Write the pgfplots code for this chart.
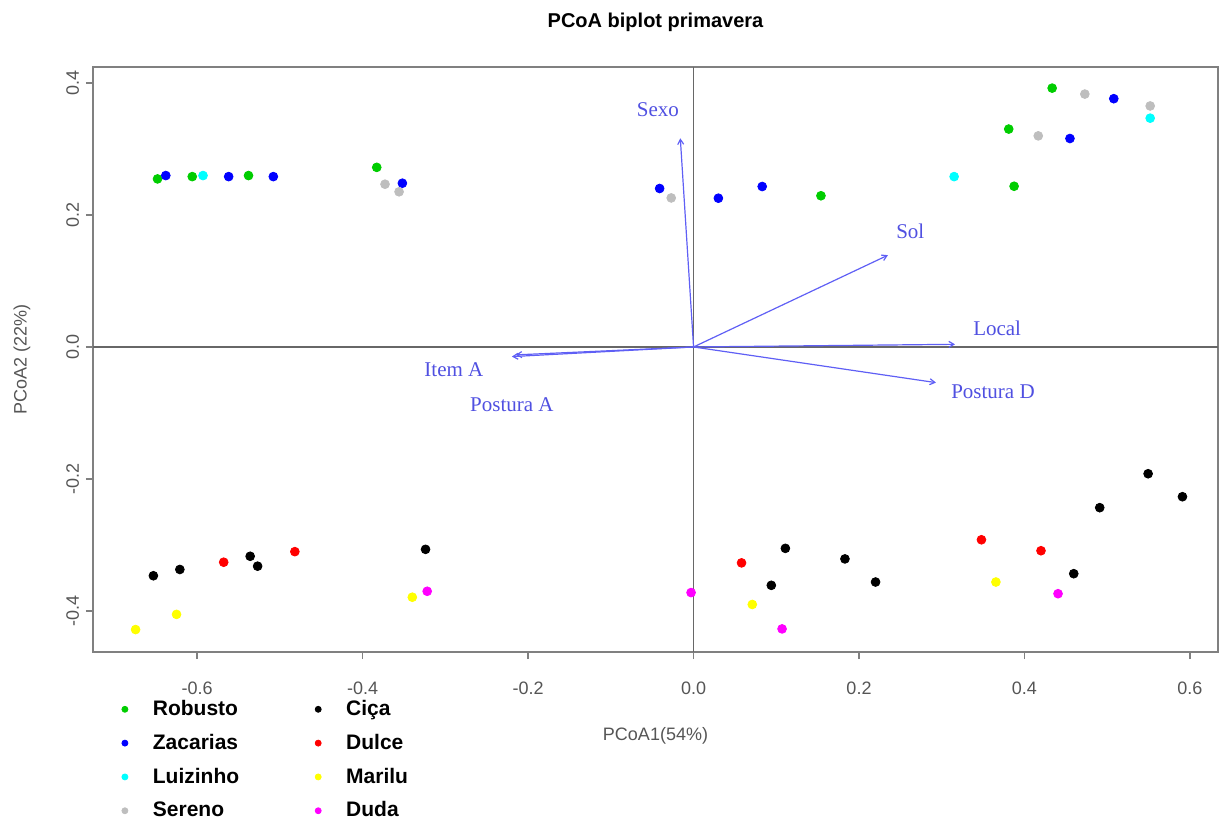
\documentclass[border=0pt]{standalone}
\usepackage{fontspec}
\setmainfont{Liberation Sans}
\newfontfamily\serifa{Liberation Serif}
\usepackage{pgfplots}
\pgfplotsset{compat=1.18}
\usetikzlibrary{arrows.meta}

\definecolor{rgreen}{RGB}{0,205,0}
\definecolor{rgray}{RGB}{190,190,190}
\definecolor{rcyan}{RGB}{0,255,255}
\definecolor{rmagenta}{RGB}{255,0,255}
\definecolor{ryellow}{RGB}{255,255,0}
\definecolor{rblue}{RGB}{0,0,255}
\definecolor{rred}{RGB}{255,0,0}
\definecolor{framegray}{RGB}{128,128,128}
\definecolor{ticktext}{RGB}{85,85,85}
\definecolor{arrowblue}{RGB}{95,95,245}
\definecolor{labelblue}{RGB}{80,80,225}

\begin{document}
\begin{tikzpicture}
\begin{axis}[
    scale only axis,
    width=562.5pt, height=292.5pt,
    xmin=-0.726, xmax=0.634,
    ymin=-0.462, ymax=0.424,
    axis line style={framegray, line width=0.8pt},
    tick style={framegray, line width=0.8pt},
    tick align=outside,
    major tick length=3.5pt,
    xtick pos=bottom, ytick pos=left,
    xtick={-0.6,-0.4,-0.2,0,0.2,0.4,0.6},
    xticklabels={-0.6,-0.4,-0.2,0.0,0.2,0.4,0.6},
    ytick={-0.4,-0.2,0,0.2,0.4},
    yticklabels={-0.4,-0.2,0.0,0.2,0.4},
    ticklabel style={font=\fontsize{9}{10}\selectfont, text=ticktext},
    xticklabel style={yshift=-8pt},
    yticklabel style={rotate=90, anchor=south},
    xlabel={PCoA1(54\%)},
    ylabel={PCoA2 (22\%)},
    label style={font=\fontsize{9}{10}\selectfont, text=ticktext},
    xlabel style={yshift=-9.5pt},
    ylabel shift=11pt,
    title={PCoA biplot primavera},
    title style={font=\fontsize{10}{12}\selectfont\bfseries, yshift=8pt},
    mark size=2.2pt,
    clip=false,
    legend columns=2,
    legend cell align=left,
    legend style={at={(0.020,-0.068)}, anchor=north west, draw=none, fill=none,
        font=\fontsize{10.5}{12}\selectfont\bfseries,
        /tikz/every odd column/.append style={column sep=10.5pt},
        /tikz/every even column/.append style={column sep=36pt},
        row sep=3.8pt},
]
% axes through origin
\addplot[framegray!80!black, line width=0.8pt, forget plot] coordinates {(-0.726,0) (0.634,0)};
\addplot[framegray!80!black, line width=0.8pt, forget plot] coordinates {(0,-0.462) (0,0.424)};

% Robusto
\addplot[only marks, mark=*, color=rgreen, forget plot] coordinates {
    (-0.648,0.2545) (-0.606,0.258) (-0.538,0.2596) (-0.383,0.272)
    (0.154,0.229) (0.4335,0.392) (0.381,0.330) (0.3875,0.2434)
};
% Zacarias
\addplot[only marks, mark=*, color=rblue, forget plot] coordinates {
    (-0.638,0.2596) (-0.562,0.258) (-0.508,0.258) (-0.352,0.248)
    (-0.041,0.240) (0.030,0.2253) (0.083,0.243) (0.508,0.376) (0.455,0.3157)
};
% Luizinho
\addplot[only marks, mark=*, color=rcyan, forget plot] coordinates {
    (-0.593,0.2596) (0.315,0.258) (0.552,0.3465)
};
% Sereno
\addplot[only marks, mark=*, color=rgray, forget plot] coordinates {
    (-0.373,0.2465) (-0.356,0.235) (-0.027,0.2257) (0.473,0.383)
    (0.552,0.365) (0.4167,0.3197)
};
% Cica
\addplot[only marks, mark=*, color=black, forget plot] coordinates {
    (-0.653,-0.3465) (-0.621,-0.337) (-0.536,-0.317) (-0.527,-0.332)
    (-0.324,-0.3065) (0.111,-0.305) (0.094,-0.361) (0.183,-0.321)
    (0.220,-0.356) (0.4596,-0.3434) (0.491,-0.2434) (0.5495,-0.192) (0.591,-0.2268)
};
% Dulce
\addplot[only marks, mark=*, color=rred, forget plot] coordinates {
    (-0.568,-0.326) (-0.482,-0.310) (0.058,-0.327) (0.348,-0.292) (0.420,-0.3086)
};
% Marilu
\addplot[only marks, mark=*, color=ryellow, forget plot] coordinates {
    (-0.6745,-0.428) (-0.625,-0.405) (-0.340,-0.379) (0.071,-0.390) (0.3655,-0.356)
};
% Duda
\addplot[only marks, mark=*, color=rmagenta, forget plot] coordinates {
    (-0.322,-0.370) (-0.003,-0.372) (0.107,-0.427) (0.4406,-0.3737)
};

% biplot arrows
\pgfplotsset{biarrow/.style={arrowblue, line width=0.6pt, -{Straight Barb[length=2.5pt,width=3pt]}, forget plot}}
\addplot[biarrow] coordinates {(0,0) (-0.016,0.316)};
\addplot[biarrow] coordinates {(0,0) (0.235,0.139)};
\addplot[biarrow] coordinates {(0,0) (0.316,0.004)};
\addplot[biarrow] coordinates {(0,0) (0.293,-0.054)};
\addplot[biarrow] coordinates {(0,0) (-0.2196,-0.0146)};
\addplot[biarrow] coordinates {(0,0) (-0.215,-0.012)};

\node[text=labelblue, font=\serifa\fontsize{10.5}{12}\selectfont] at (axis cs:-0.043,0.359) {Sexo};
\node[text=labelblue, font=\serifa\fontsize{10.5}{12}\selectfont] at (axis cs:0.262,0.175) {Sol};
\node[text=labelblue, font=\serifa\fontsize{10.5}{12}\selectfont] at (axis cs:0.367,0.028) {Local};
\node[text=labelblue, font=\serifa\fontsize{10.5}{12}\selectfont] at (axis cs:0.362,-0.068) {Postura D};
\node[text=labelblue, font=\serifa\fontsize{10.5}{12}\selectfont] at (axis cs:-0.2897,-0.035) {Item A};
\node[text=labelblue, font=\serifa\fontsize{10.5}{12}\selectfont] at (axis cs:-0.2196,-0.088) {Postura A};

% legend (row-major, two columns)
\addlegendimage{only marks, mark=*, mark size=1.5pt, color=rgreen}
\addlegendentry{Robusto}
\addlegendimage{only marks, mark=*, mark size=1.5pt, color=black}
\addlegendentry{Ciça}
\addlegendimage{only marks, mark=*, mark size=1.5pt, color=rblue}
\addlegendentry{Zacarias}
\addlegendimage{only marks, mark=*, mark size=1.5pt, color=rred}
\addlegendentry{Dulce}
\addlegendimage{only marks, mark=*, mark size=1.5pt, color=rcyan}
\addlegendentry{Luizinho}
\addlegendimage{only marks, mark=*, mark size=1.5pt, color=ryellow}
\addlegendentry{Marilu}
\addlegendimage{only marks, mark=*, mark size=1.5pt, color=rgray}
\addlegendentry{Sereno}
\addlegendimage{only marks, mark=*, mark size=1.5pt, color=rmagenta}
\addlegendentry{Duda}
\end{axis}
\path[use as bounding box] (-46.5pt,-85.5pt) rectangle (563pt,326pt);
\end{tikzpicture}
\end{document}
